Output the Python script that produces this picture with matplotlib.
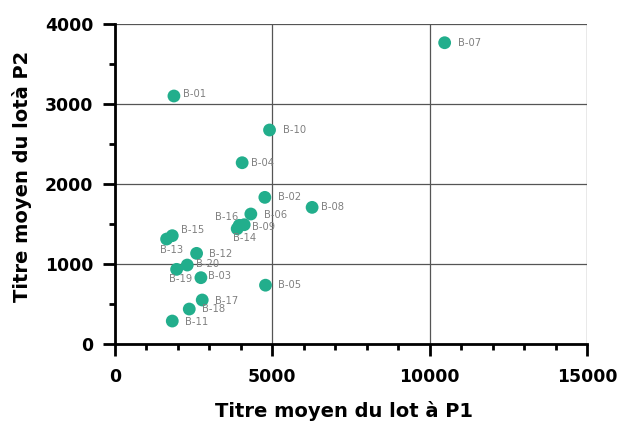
import matplotlib
matplotlib.use("Agg")
import matplotlib.pyplot as plt
from matplotlib.ticker import MultipleLocator

labels = ["B-01", "B-02", "B-03", "B-04", "B-05", "B-06", "B-07", "B-08", "B-09", "B-10",
          "B-11", "B-12", "B-13", "B-14", "B-15", "B-16", "B-17", "B-18", "B-19", "B-20"]
p1 = [1873, 4762, 2730, 4041, 4783, 4317, 10476, 6264, 4106, 4911,
      1820, 2593, 1640, 3883, 1820, 3947, 2772, 2360, 1958, 2296]
p2 = [3100, 1833, 829, 2266, 735, 1625, 3766, 1708, 1491, 2675,
      287, 1133, 1312, 1441, 1354, 1483, 550, 437, 933, 987]

# label placement (offset in pixels, horizontal alignment)
offsets = {
    "B-01": (8.7, 2, "left"), "B-02": (12.7, 0, "left"), "B-03": (6.7, 1.4, "left"),
    "B-04": (8.4, -0.6, "left"), "B-05": (12, 0.7, "left"), "B-06": (13, -1, "left"),
    "B-07": (13.3, -0.6, "left"), "B-08": (8.4, 0, "left"), "B-09": (7.4, -2, "left"),
    "B-10": (13, 0, "left"), "B-11": (13, -1.3, "left"), "B-12": (12.6, -0.7, "left"),
    "B-13": (5.1, -11.3, "center"), "B-14": (7.2, -9.6, "center"), "B-15": (8.4, 5.4, "left"),
    "B-16": (-13, 8, "center"), "B-17": (12.7, -0.7, "left"), "B-18": (13, 0, "left"),
    "B-19": (4.1, -10, "center"), "B-20": (8.7, 0.7, "left"),
}

plt.rcParams['font.family'] = ['DejaVu Sans']

fig = plt.figure(figsize=(6.34, 4.26), dpi=100)
ax = fig.add_axes([115/634, 82/426, 472/634, 320/426])

ax.scatter(p1, p2, s=85, color="#22AE8C", edgecolors="none", zorder=3, clip_on=False)
for lab, x, y in zip(labels, p1, p2):
    dx, dy, ha = offsets[lab]
    ax.annotate(lab, (x, y), xytext=(dx, dy), textcoords="offset pixels",
                ha=ha, va="center", fontsize=7.2, color="#808080", zorder=4)

ax.set_xlim(0, 15000)
ax.set_ylim(0, 4000)
ax.xaxis.set_major_locator(MultipleLocator(5000))
ax.xaxis.set_minor_locator(MultipleLocator(1000))
ax.yaxis.set_major_locator(MultipleLocator(1000))
ax.yaxis.set_minor_locator(MultipleLocator(500))

ax.grid(True, which="major", color="#555555", linewidth=0.9, zorder=1)
ax.set_axisbelow(True)

for s in ["top", "right"]:
    ax.spines[s].set_visible(False)
for s in ["left", "bottom"]:
    ax.spines[s].set_linewidth(2.0)
    ax.spines[s].set_color("black")

ax.tick_params(which="major", length=8.6, width=2.0, color="black", direction="out")
ax.tick_params(which="minor", length=4.5, width=2.0, color="black", direction="out")
ax.tick_params(axis="y", labelsize=12.4, pad=7)
ax.tick_params(axis="x", labelsize=12.4, pad=8.5)
for t in ax.get_xticklabels() + ax.get_yticklabels():
    t.set_fontweight("bold")

ax.set_xlabel("Titre moyen du lot à P1", fontsize=14, fontweight="bold", labelpad=11)
ax.set_ylabel("Titre moyen du lotà P2", fontsize=14, fontweight="bold", labelpad=9.4)
ax.xaxis.label.set_x(0.486)
ax.yaxis.label.set_y(0.525)

fig.savefig("out.png", dpi=100)
